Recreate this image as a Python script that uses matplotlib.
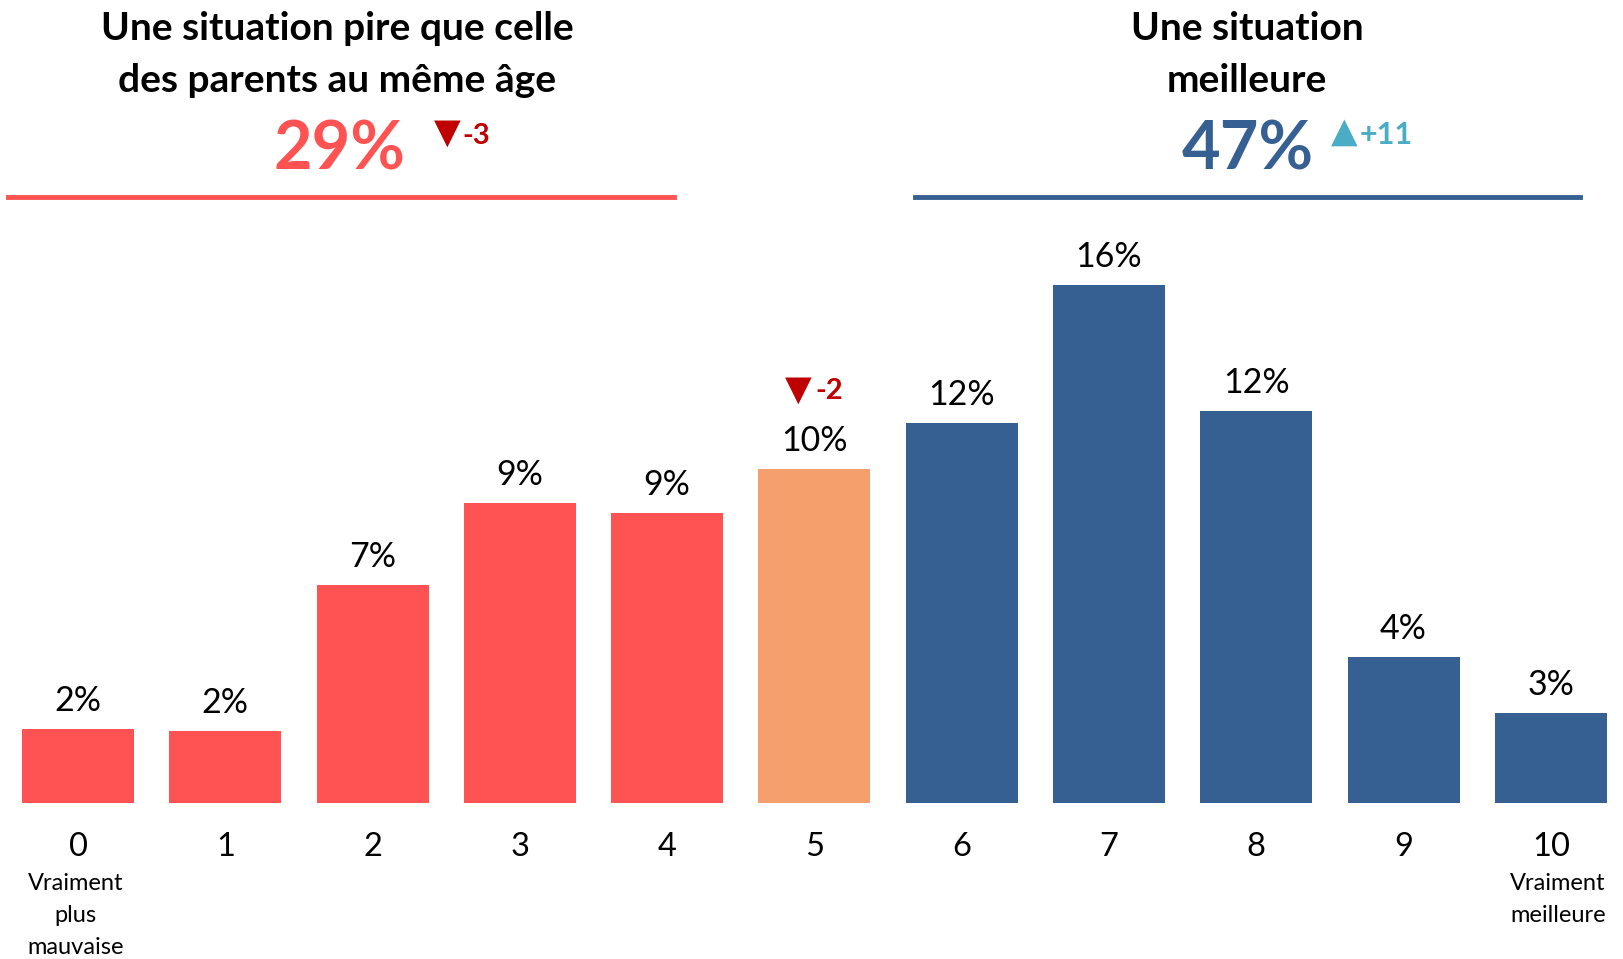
import matplotlib.pyplot as plt

# ── Data ──────────────────────────────────────────────────────────────────────
scores = [0, 1, 2, 3, 4, 5, 6, 7, 8, 9, 10]
values = [2.28, 2.22, 6.73, 9.26, 8.94, 10.31, 11.72, 16.0, 12.1, 4.5, 2.79]
labels = ["2%", "2%", "7%", "9%", "9%", "10%", "12%", "16%", "12%", "4%", "3%"]
sub_left = ["Vraiment", "plus", "mauvaise"]
sub_right = ["Vraiment", "meilleure"]

worse_total, worse_delta = "29%", "-3"
better_total, better_delta = "47%", "+11"
mid_delta = "-2"

RED = "#FF5252"
ORANGE = "#F5A06C"
BLUE = "#366092"
DARK_RED = "#C00000"
LIGHT_BLUE = "#4BACC6"
colors = [RED] * 5 + [ORANGE] + [BLUE] * 5

plt.rcParams["font.family"] = ["Lato", "DejaVu Sans"]

W, H = 1623, 959
fig = plt.figure(figsize=(W / 100, H / 100), dpi=100)


def px(x, y):
    return x / W, 1 - y / H


ax = fig.add_axes([0, (H - 803) / H, 1, (803 - 230) / H])
ax.bar(scores, values, width=0.76, color=colors, zorder=2)
ax.set_xlim(-0.53, 10.49)
ax.set_ylim(0, 17.69)
ax.axis("off")

for x, v, lab in zip(scores, values, labels):
    ax.annotate(lab, (x, v), textcoords="offset points", xytext=(0, 13),
                ha="center", va="baseline", fontsize=24.5)
    ax.annotate(str(x), (x, 0), textcoords="offset points", xytext=(0, -38),
                ha="center", va="baseline", fontsize=23.5)

for k, s in enumerate(sub_left):
    ax.annotate(s, (0, 0), textcoords="offset points", xytext=(-2, -63 - 23 * k),
                ha="center", va="baseline", fontsize=17)
for k, s in enumerate(sub_right):
    ax.annotate(s, (10, 0), textcoords="offset points", xytext=(5, -63 - 23 * k),
                ha="center", va="baseline", fontsize=17)

# delta above bar 5
ax.annotate("▼", (5, values[5]), textcoords="offset points", xytext=(-12, 57),
            ha="center", va="center", fontsize=25, color=DARK_RED,
            family="DejaVu Sans")
ax.annotate(mid_delta, (5, values[5]), textcoords="offset points", xytext=(1, 56),
            ha="left", va="center", fontsize=21, color=DARK_RED, fontweight="bold")

# ── Headers ───────────────────────────────────────────────────────────────────
fig.text(*px(337, 29), "Une situation pire que celle", ha="center", va="center",
         fontsize=28, fontweight="bold")
fig.text(*px(337, 80), "des parents au même âge", ha="center", va="center",
         fontsize=28, fontweight="bold")
fig.text(*px(1247, 29), "Une situation", ha="center", va="center",
         fontsize=28, fontweight="bold")
fig.text(*px(1247, 80), "meilleure", ha="center", va="center",
         fontsize=28, fontweight="bold")

fig.text(*px(340, 170), worse_total, ha="center", va="baseline",
         fontsize=48, fontweight="bold", color=RED)
fig.text(*px(447, 133), "▼", ha="center", va="center", fontsize=25,
         color=DARK_RED, family="DejaVu Sans")
fig.text(*px(462, 136), worse_delta, ha="left", va="center", fontsize=21,
         fontweight="bold", color=DARK_RED)

fig.text(*px(1248, 170), better_total, ha="center", va="baseline",
         fontsize=48, fontweight="bold", color=BLUE)
fig.text(*px(1344, 132), "▲", ha="center", va="center", fontsize=25,
         color=LIGHT_BLUE, family="DejaVu Sans")
fig.text(*px(1360, 135), better_delta, ha="left", va="center", fontsize=22,
         fontweight="bold", color=LIGHT_BLUE)

fig.add_artist(plt.Line2D([8 / W, 674 / W], [1 - 197 / H] * 2, color=RED, lw=3.5))
fig.add_artist(plt.Line2D([915 / W, 1580 / W], [1 - 197 / H] * 2, color=BLUE, lw=3.5))

fig.savefig("out.png", dpi=100)
